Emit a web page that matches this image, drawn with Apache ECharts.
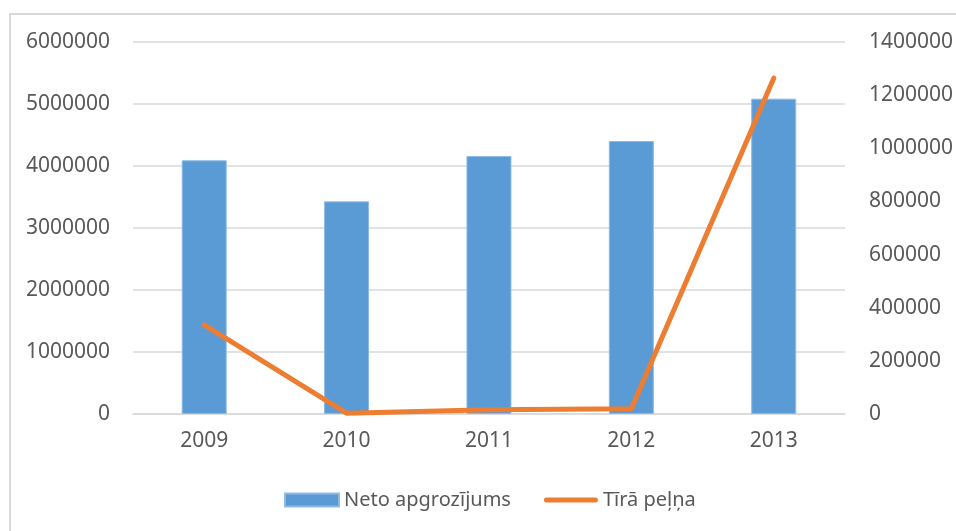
<!DOCTYPE html>
<html>
<head>
<meta charset="utf-8">
<script src="https://cdn.jsdelivr.net/npm/echarts@6/dist/echarts.min.js"></script>
<style>
  html, body { margin: 0; padding: 0; background: #fff; }
  #frame {
    position: absolute; left: 9px; top: 13px; width: 960px; height: 540px;
    border-left: 2px solid #d9d9d9; border-top: 2px solid #d9d9d9;
  }
  #chart { position: absolute; left: 0; top: 0; width: 956px; height: 531px; }
</style>
</head>
<body>
<div id="frame"></div>
<div id="chart"></div>
<script>
// gadi
const years = ['2009', '2010', '2011', '2012', '2013'];
// Neto apgrozījums (kreisā ass)
const turnover = [4092000, 3430000, 4161000, 4403000, 5086000];
// Tīrā peļņa (labā ass)
const profit = [335000, 3000, 16000, 20000, 1264000];

const labelColor = '#595959';
const font = '"Noto Sans", "Open Sans", sans-serif';
const plain = v => String(v);

const chart = echarts.init(document.getElementById('chart'));
chart.setOption({
  animation: false,
  grid: { left: 133, right: 111, top: 42, bottom: 117 },
  legend: {
    left: 279,
    top: 485,
    itemGap: 33,
    itemWidth: 54,
    itemHeight: 13,
    symbolKeepAspect: true,
    textStyle: { color: labelColor, fontFamily: font, fontSize: 20 },
    data: [
      { name: 'Neto apgrozījums', icon: 'rect' },
      { name: 'Tīrā peļņa', icon: 'path://M2.5,0 H51.5 A2.5,2.5 0 0 1 51.5,5 H2.5 A2.5,2.5 0 0 1 2.5,0 Z' }
    ]
  },
  xAxis: {
    type: 'category',
    data: years,
    axisTick: { show: false },
    axisLine: { lineStyle: { color: '#d9d9d9', width: 1.5 } },
    axisLabel: { color: labelColor, fontFamily: font, fontSize: 21, margin: 17 }
  },
  yAxis: [
    {
      type: 'value',
      min: 0,
      max: 6000000,
      interval: 1000000,
      axisLabel: { color: labelColor, fontFamily: font, fontSize: 21, margin: 23, formatter: plain },
      splitLine: { lineStyle: { color: '#d9d9d9', width: 1.5 } },
      axisLine: { show: false },
      axisTick: { show: false }
    },
    {
      type: 'value',
      min: 0,
      max: 1400000,
      interval: 200000,
      axisLabel: { color: labelColor, fontFamily: font, fontSize: 21, margin: 24, formatter: plain },
      splitLine: { show: false },
      axisLine: { show: false },
      axisTick: { show: false }
    }
  ],
  series: [
    {
      name: 'Neto apgrozījums',
      type: 'bar',
      data: turnover,
      barWidth: 45,
      itemStyle: { color: '#5b9bd5', borderColor: '#8dbbe6', borderWidth: 1 }
    },
    {
      name: 'Tīrā peļņa',
      type: 'line',
      yAxisIndex: 1,
      data: profit,
      symbol: 'none',
      lineStyle: { color: '#ed7d31', width: 5, cap: 'round', join: 'round' },
      itemStyle: { color: '#ed7d31' }
    }
  ]
});
</script>
</body>
</html>
